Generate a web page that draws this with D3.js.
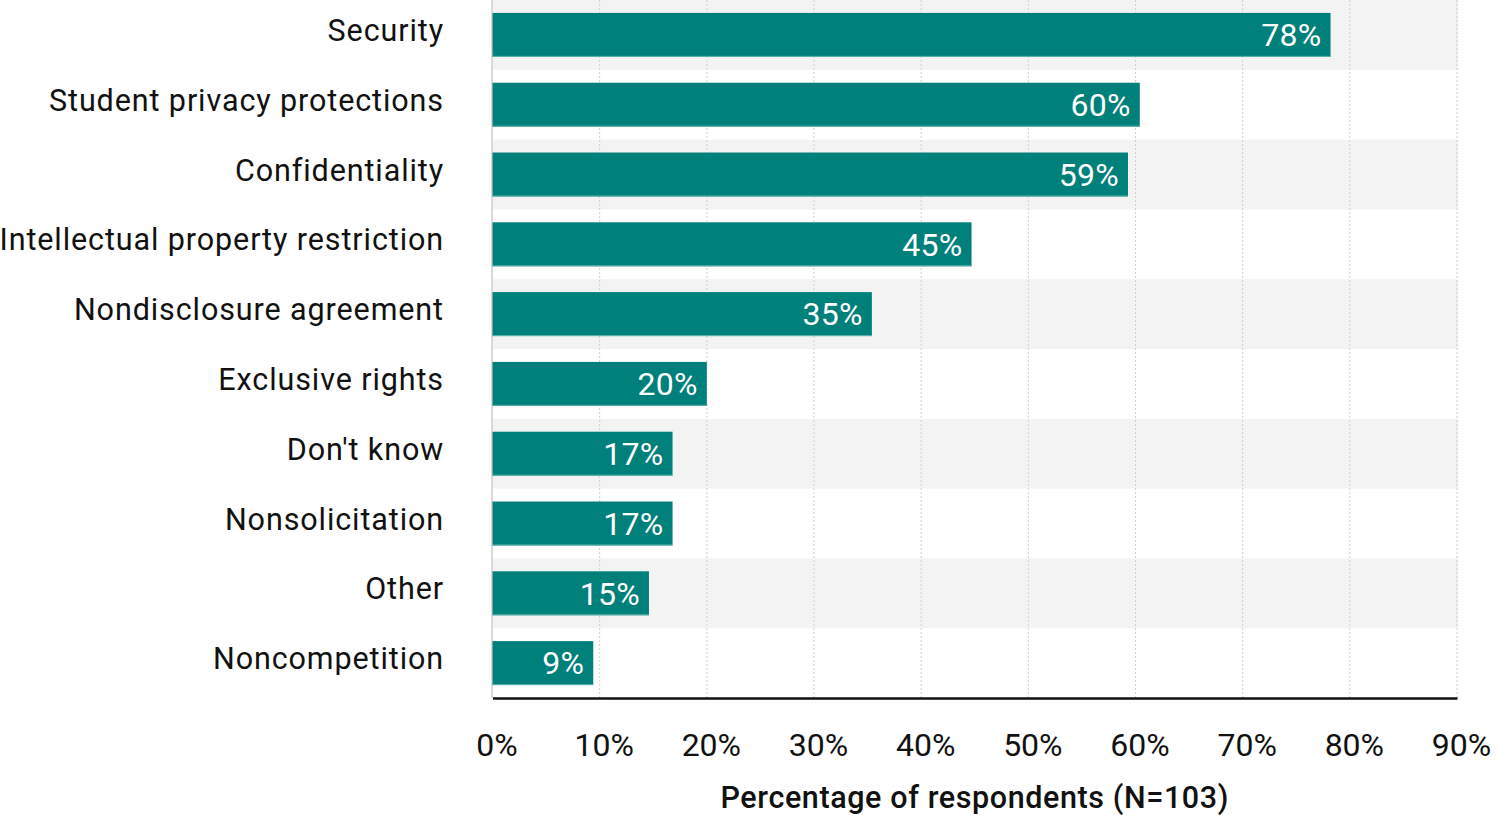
<!DOCTYPE html>
<html><head><meta charset="utf-8">
<script src="https://cdn.jsdelivr.net/npm/d3@7"></script>
<style>body{margin:0;background:#fff;} text{font-family:Roboto, sans-serif;}</style>
</head><body>
<svg id="c" width="1500" height="815"></svg>
<script>
const categories = ["Security","Student privacy protections","Confidentiality","Intellectual property restriction","Nondisclosure agreement","Exclusive rights","Don't know","Nonsolicitation","Other","Noncompetition"];
const values = [78.2, 60.4, 59.3, 44.7, 35.4, 20.0, 16.8, 16.8, 14.6, 9.4];
const valueLabels = ["78%","60%","59%","45%","35%","20%","17%","17%","15%","9%"];
const tickValues = [0,10,20,30,40,50,60,70,80,90];
const tickLabels = ["0%","10%","20%","30%","40%","50%","60%","70%","80%","90%"];
const axisTitle = "Percentage of respondents (N=103)";

const svg = d3.select("#c");
const L = 492.5, R = 1457, T = 0, B = 698;
const x = d3.scaleLinear().domain([0,90]).range([L,R]);
const rows = d3.scaleBand().domain(categories).range([T,B]);
const y = d3.scaleBand().domain(categories).range([T,B]).paddingInner(0.37).paddingOuter(0.185);

// alternating backgrounds
svg.append("g").selectAll("rect").data(categories.filter((d,i)=>i%2===0)).join("rect")
  .attr("x", L).attr("width", R-L+1).attr("y", d=>rows(d)).attr("height", rows.bandwidth())
  .attr("fill","#f3f3f3");

// gridlines
svg.append("g").selectAll("line").data(tickValues.slice(1)).join("line")
  .attr("x1", d=>x(d)).attr("x2", d=>x(d)).attr("y1", T).attr("y2", B)
  .attr("stroke","#cfcfcf").attr("stroke-width",1).attr("stroke-dasharray","2,2");

// left axis line
svg.append("line").attr("x1",L-0.5).attr("x2",L-0.5).attr("y1",T).attr("y2",B)
  .attr("stroke","#d9d9d9").attr("stroke-width",2);

// bars
svg.append("g").selectAll("rect").data(categories).join("rect")
  .attr("x", L).attr("y", d=>y(d)).attr("height", y.bandwidth())
  .attr("width", (d,i)=>x(values[i])-L).attr("fill","#00807A");
svg.append("g").selectAll("line").data(categories).join("line")
  .attr("x1", L).attr("x2",(d,i)=>x(values[i])).attr("y1", d=>y(d)+y.bandwidth()-0.5).attr("y2", d=>y(d)+y.bandwidth()-0.5)
  .attr("stroke","#5fb3ae").attr("stroke-width",1);

// value labels
svg.append("g").selectAll("text").data(categories).join("text")
  .attr("x",(d,i)=>x(values[i])-9).attr("y", d=>y(d)+y.bandwidth()/2).attr("dy","0.35em")
  .attr("text-anchor","end").attr("fill","#fff").attr("font-size",32).attr("letter-spacing",0.3)
  .text((d,i)=>valueLabels[i]);

// category labels
svg.append("g").selectAll("text").data(categories).join("text")
  .attr("x",444).attr("y", d=>rows(d)+rows.bandwidth()/2-4.5).attr("dy","0.35em")
  .attr("text-anchor","end").attr("fill","#111").attr("font-size",30.5).attr("letter-spacing",0.9)
  .text(d=>d);

// bottom axis
const ax = d3.axisBottom(x).tickValues(tickValues).tickFormat((d,i)=>tickLabels[i]).tickSize(0).tickPadding(35);
const g = svg.append("g").attr("transform",`translate(0,${B})`).call(ax);
g.select(".domain").attr("stroke","#111").attr("stroke-width",2.5);
g.selectAll("text").attr("font-size",32).attr("fill","#111").attr("font-family","Roboto, sans-serif").attr("dx",4);

svg.append("text").attr("x",(L+R)/2).attr("y",808).attr("text-anchor","middle")
  .attr("font-size",30.5).attr("font-weight",500).attr("letter-spacing",0.6).attr("fill","#111").text(axisTitle);
</script>
</body></html>
